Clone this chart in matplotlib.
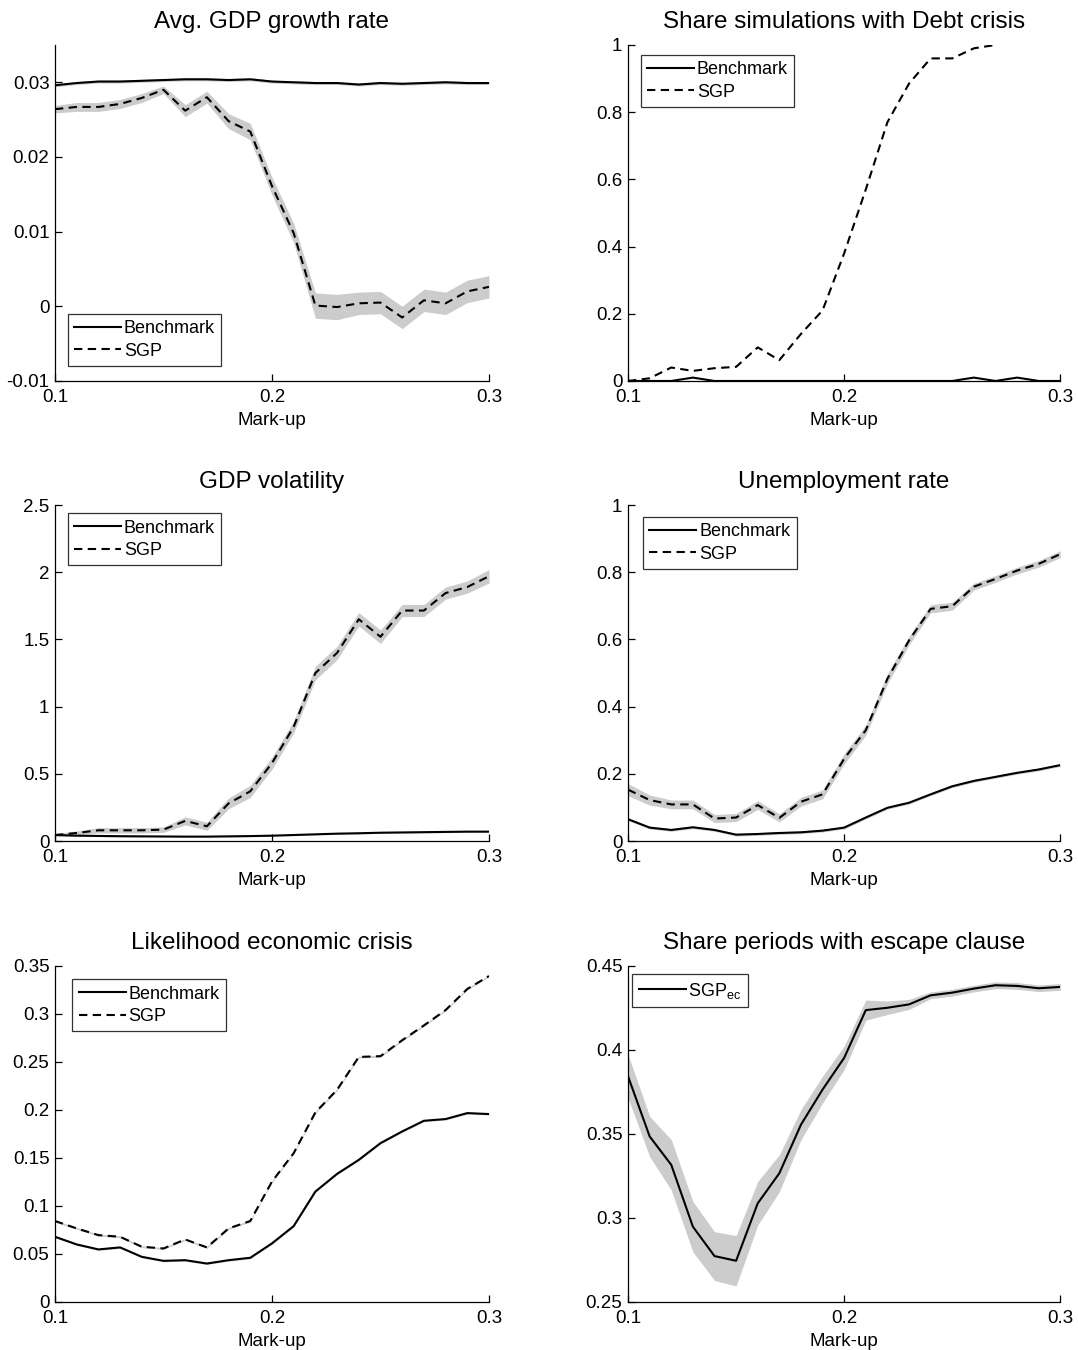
import numpy as np
import matplotlib
matplotlib.use("Agg")
import matplotlib.pyplot as plt

plt.rcParams['font.family'] = ['Liberation Sans', 'DejaVu Sans']

markup = [0.10, 0.11, 0.12, 0.13, 0.14, 0.15, 0.16, 0.17, 0.18, 0.19, 0.20,
          0.21, 0.22, 0.23, 0.24, 0.25, 0.26, 0.27, 0.28, 0.29, 0.30]

# Panel 1: Avg. GDP growth rate
growth_bench = [0.0296, 0.0299, 0.0301, 0.0301, 0.0302, 0.0303, 0.0304, 0.0304, 0.0303, 0.0304, 0.0301,
                0.0300, 0.0299, 0.0299, 0.0297, 0.0299, 0.0298, 0.0299, 0.0300, 0.0299, 0.0299]
growth_bench_ci = [0.0002] * 21
growth_sgp = [0.0264, 0.0267, 0.0267, 0.0271, 0.0279, 0.0290, 0.0262, 0.0280, 0.0248, 0.0234, 0.0161,
              0.0098, 0.0001, -0.0001, 0.0004, 0.0005, -0.0015, 0.0008, 0.0004, 0.0020, 0.0026]
growth_sgp_ci = [0.0005, 0.0006, 0.0006, 0.0006, 0.0006, 0.0005, 0.0008, 0.0008, 0.0010, 0.0011, 0.0012,
                 0.0013, 0.0017, 0.0017, 0.0015, 0.0015, 0.0015, 0.0015, 0.0015, 0.0015, 0.0015]

# Panel 2: Share simulations with Debt crisis (values at 1 beyond 0.27 fall on the clipped edge)
debt_bench = [0.0, 0.0, 0.0, 0.01, 0.0, 0.0, 0.0, 0.0, 0.0, 0.0, 0.0,
              0.0, 0.0, 0.0, 0.0, 0.0, 0.01, 0.0, 0.01, 0.0, 0.0]
debt_sgp = [0.0, 0.008, 0.04, 0.03, 0.038, 0.042, 0.10, 0.062, 0.14, 0.21, 0.38,
            0.57, 0.77, 0.885, 0.96, 0.96, 0.99, 1.0, np.nan, np.nan, np.nan]

# Panel 3: GDP volatility
vol_bench = [0.045, 0.040, 0.038, 0.036, 0.035, 0.034, 0.033, 0.033, 0.035, 0.037, 0.040,
             0.045, 0.050, 0.055, 0.058, 0.062, 0.064, 0.066, 0.068, 0.070, 0.070]
vol_bench_ci = [0.005] * 21
vol_sgp = [0.045, 0.06, 0.08, 0.08, 0.08, 0.085, 0.15, 0.11, 0.28, 0.37, 0.58,
           0.85, 1.25, 1.40, 1.65, 1.52, 1.715, 1.715, 1.845, 1.89, 1.97]
vol_sgp_ci = [0.01, 0.015, 0.02, 0.02, 0.02, 0.02, 0.03, 0.03, 0.04, 0.045, 0.045,
              0.045, 0.05, 0.05, 0.05, 0.05, 0.045, 0.045, 0.045, 0.045, 0.05]

# Panel 4: Unemployment rate
unemp_bench = [0.065, 0.040, 0.033, 0.041, 0.033, 0.019, 0.021, 0.024, 0.026, 0.031, 0.040,
               0.070, 0.099, 0.114, 0.139, 0.163, 0.179, 0.191, 0.203, 0.213, 0.226]
unemp_bench_ci = [0.004] * 21
unemp_sgp = [0.153, 0.122, 0.109, 0.109, 0.067, 0.070, 0.107, 0.069, 0.117, 0.139, 0.245,
             0.330, 0.483, 0.597, 0.691, 0.699, 0.757, 0.780, 0.805, 0.825, 0.854]
unemp_sgp_ci = [0.018, 0.015, 0.013, 0.013, 0.012, 0.012, 0.013, 0.012, 0.013, 0.013, 0.015,
                0.015, 0.015, 0.013, 0.012, 0.012, 0.010, 0.010, 0.010, 0.010, 0.010]

# Panel 5: Likelihood economic crisis
crisis_bench = [0.0679, 0.0599, 0.0547, 0.0568, 0.0470, 0.0428, 0.0435, 0.0400, 0.0435, 0.0460, 0.0610,
                0.0790, 0.1150, 0.1334, 0.1480, 0.1654, 0.1776, 0.1887, 0.1905, 0.1967, 0.1957]
crisis_sgp = [0.0843, 0.0766, 0.0696, 0.0679, 0.0575, 0.0557, 0.0651, 0.0568, 0.0766, 0.0843, 0.1254,
              0.1550, 0.1974, 0.2210, 0.2552, 0.2560, 0.2726, 0.2880, 0.3040, 0.3260, 0.3395]
crisis_ci = [0.001] * 21

# Panel 6: Share periods with escape clause
escape_sgp = [0.3843, 0.3485, 0.3316, 0.2948, 0.2773, 0.2745, 0.3087, 0.3266, 0.3555, 0.3764, 0.3953,
              0.4237, 0.4251, 0.4271, 0.4325, 0.4341, 0.4365, 0.4385, 0.4381, 0.4367, 0.4375]
escape_ci = [0.013, 0.012, 0.015, 0.015, 0.0145, 0.015, 0.013, 0.011, 0.009, 0.008, 0.007,
             0.006, 0.004, 0.003, 0.002, 0.002, 0.002, 0.002, 0.002, 0.002, 0.002]

titles = ["Avg. GDP growth rate", "Share simulations with Debt crisis", "GDP volatility",
          "Unemployment rate", "Likelihood economic crisis", "Share periods with escape clause"]

BAND = '#cccccc'
DASH = (0, (4, 2.6))
LW = 1.5
TICK_FS = 13.5

fig = plt.figure(figsize=(10.78, 13.5), dpi=100)
lefts = [0.051, 0.5826]
width = [0.4026, 0.401]
bottoms = [0.7178, 0.377, 0.0356]
height = 0.2489

axes = []
for r in range(3):
    for c in range(2):
        ax = fig.add_axes([lefts[c], bottoms[r], width[c], height])
        axes.append(ax)

x = np.array(markup)


def band(ax, y, ci):
    y = np.array(y, dtype=float)
    ci = np.array(ci, dtype=float)
    ax.fill_between(x, y - ci, y + ci, color=BAND, lw=0, zorder=1)


def style(ax, title, ylim, yticks, yticklabels):
    ax.set_xlim(0.1, 0.3)
    ax.set_ylim(*ylim)
    ax.set_xticks([0.1, 0.2, 0.3])
    ax.set_xticklabels(['0.1', '0.2', '0.3'])
    ax.set_yticks(yticks)
    ax.set_yticklabels(yticklabels)
    for s in ['top', 'right']:
        ax.spines[s].set_visible(False)
    for s in ['left', 'bottom']:
        ax.spines[s].set_linewidth(0.9)
    ax.tick_params(axis='both', direction='in', length=5, width=0.9, labelsize=TICK_FS)
    ax.tick_params(axis='x', pad=6)
    ax.tick_params(axis='y', pad=4)
    ax.set_title(title, fontsize=17.5, pad=12)
    ax.set_xlabel('Mark-up', fontsize=TICK_FS, labelpad=4)


def legend(ax, loc, anchor):
    leg = ax.legend(loc=loc, bbox_to_anchor=anchor, fontsize=13, frameon=True, fancybox=False,
                    edgecolor='black', handlelength=2.6, handletextpad=0.15, borderpad=0.35,
                    labelspacing=0.3, borderaxespad=0)
    leg.get_frame().set_linewidth(0.9)
    return leg


# Panel 1
ax = axes[0]
band(ax, growth_bench, growth_bench_ci)
band(ax, growth_sgp, growth_sgp_ci)
ax.plot(x, growth_bench, color='black', lw=LW, label='Benchmark', zorder=3)
ax.plot(x, growth_sgp, color='black', lw=LW, ls=DASH, label='SGP', zorder=3)
style(ax, titles[0], (-0.01, 0.035), [-0.01, 0, 0.01, 0.02, 0.03], ['-0.01', '0', '0.01', '0.02', '0.03'])
legend(ax, 'lower left', (0.03, 0.045))

# Panel 2
ax = axes[1]
ax.plot(x, debt_bench, color='black', lw=LW, label='Benchmark', zorder=3)
ax.plot(x, debt_sgp, color='black', lw=LW, ls=DASH, label='SGP', zorder=3)
style(ax, titles[1], (0, 1), [0, 0.2, 0.4, 0.6, 0.8, 1], ['0', '0.2', '0.4', '0.6', '0.8', '1'])
legend(ax, 'upper left', (0.03, 0.97))

# Panel 3
ax = axes[2]
band(ax, vol_bench, vol_bench_ci)
band(ax, vol_sgp, vol_sgp_ci)
ax.plot(x, vol_bench, color='black', lw=LW, label='Benchmark', zorder=3)
ax.plot(x, vol_sgp, color='black', lw=LW, ls=DASH, label='SGP', zorder=3)
style(ax, titles[2], (0, 2.5), [0, 0.5, 1, 1.5, 2, 2.5], ['0', '0.5', '1', '1.5', '2', '2.5'])
legend(ax, 'upper left', (0.03, 0.975))

# Panel 4
ax = axes[3]
band(ax, unemp_bench, unemp_bench_ci)
band(ax, unemp_sgp, unemp_sgp_ci)
ax.plot(x, unemp_bench, color='black', lw=LW, label='Benchmark', zorder=3)
ax.plot(x, unemp_sgp, color='black', lw=LW, ls=DASH, label='SGP', zorder=3)
style(ax, titles[3], (0, 1), [0, 0.2, 0.4, 0.6, 0.8, 1], ['0', '0.2', '0.4', '0.6', '0.8', '1'])
legend(ax, 'upper left', (0.035, 0.965))

# Panel 5
ax = axes[4]
band(ax, crisis_bench, crisis_ci)
band(ax, crisis_sgp, crisis_ci)
ax.plot(x, crisis_bench, color='black', lw=LW, label='Benchmark', zorder=3)
ax.plot(x, crisis_sgp, color='black', lw=LW, ls=DASH, label='SGP', zorder=3)
style(ax, titles[4], (0, 0.35), [0, 0.05, 0.1, 0.15, 0.2, 0.25, 0.3, 0.35],
      ['0', '0.05', '0.1', '0.15', '0.2', '0.25', '0.3', '0.35'])
legend(ax, 'upper left', (0.04, 0.96))

# Panel 6
ax = axes[5]
band(ax, escape_sgp, escape_ci)
ax.plot(x, escape_sgp, color='black', lw=LW, label='SGP$_{\\mathregular{ec}}$', zorder=3)
style(ax, titles[5], (0.25, 0.45), [0.25, 0.3, 0.35, 0.4, 0.45], ['0.25', '0.3', '0.35', '0.4', '0.45'])
legend(ax, 'upper left', (0.01, 0.975))

fig.savefig('out.png', dpi=100)
